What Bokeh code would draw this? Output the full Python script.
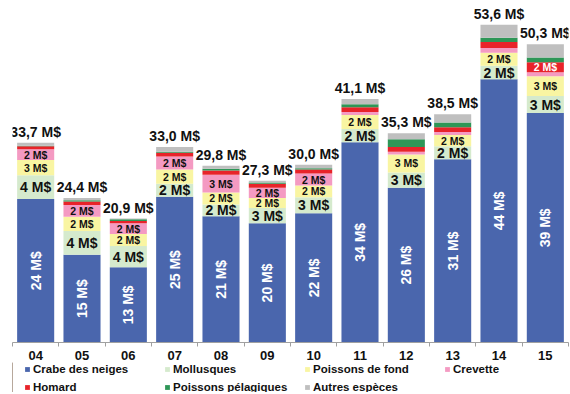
from bokeh.plotting import figure
from bokeh.layouts import column
from bokeh.models import ColumnDataSource, Legend, LegendItem, FixedTicker, Range1d
from bokeh.core.properties import value
from bokeh.embed import file_html
from bokeh.resources import INLINE

years = ["04", "05", "06", "07", "08", "09", "10", "11", "12", "13", "14", "15"]
crabe = [24.2, 14.8, 12.7, 24.6, 21.3, 20.1, 21.8, 33.8, 26.1, 30.9, 44.4, 38.7]
mollusques = [4.0, 4.0, 3.6, 2.2, 2.0, 2.6, 2.7, 2.2, 2.6, 2.2, 2.3, 2.9]
fond = [2.6, 2.4, 2.0, 2.4, 2.0, 1.7, 2.0, 2.4, 3.0, 1.9, 2.2, 3.3]
crevette = [1.8, 2.0, 1.8, 2.2, 3.0, 1.7, 2.0, 0.5, 0.5, 0.5, 0.8, 0.7]
homard = [0.5, 0.6, 0.4, 0.6, 0.7, 0.7, 0.7, 0.8, 0.8, 0.8, 1.0, 1.7]
pelagiques = [0.1, 0.2, 0.3, 0.2, 0.3, 0.2, 0.2, 0.5, 1.3, 0.8, 0.7, 0.8]
autres = [0.5, 0.4, 0.1, 0.8, 0.5, 0.3, 0.6, 0.9, 1.0, 1.4, 2.2, 2.2]

names = ["Crabe des neiges", "Mollusques", "Poissons de fond", "Crevette",
         "Homard", "Poissons pélagiques", "Autres espèces"]
series = [crabe, mollusques, fond, crevette, homard, pelagiques, autres]
colors = ["#4a66ad", "#d5eacd", "#f9f5a2", "#f49ac2", "#e8232a", "#2e9657", "#bfbfbf"]
keys = ["s%d" % i for i in range(len(series))]

FONT = "Liberation Sans"
xs = list(range(len(years)))
data = {"x": xs}
for k, s in zip(keys, series):
    data[k] = s
src = ColumnDataSource(data)

p = figure(frame_width=556, frame_height=342, output_backend="svg", toolbar_location=None,
           x_range=Range1d(-0.5, len(years) - 0.5), y_range=Range1d(0, 57.7),
           min_border_left=12, min_border_right=2, min_border_top=0, min_border_bottom=0)
p.outline_line_color = None
p.xgrid.visible = False
p.ygrid.visible = False
p.yaxis.visible = False

rends = p.vbar_stack(keys, x="x", width=0.8, color=colors, line_color=None, source=src)

def fmt(v):
    return "%d M$" % int(v + 0.5)

groups = {"blue": ([], [], []), "green": ([], [], []), "small": ([], [], []), "red": ([], [], [])}
for i in xs:
    base = 0.0
    for j, s in enumerate(series):
        v = s[i]
        mid = base + v / 2
        g = None
        if j == 0:
            g = "blue"
        elif j == 1:
            g = "green"
        elif j in (2, 3) and v >= 1.5:
            g = "small"
        elif j == 4 and v >= 1.5:
            g = "red"
        if g:
            groups[g][0].append(i); groups[g][1].append(mid); groups[g][2].append(fmt(v))
        base += v

gx, gy, gt = groups["blue"]
p.text(x=gx, y=gy, text=gt, angle=1.5708, text_color="white", text_font=value(FONT),
       text_font_style="bold", text_font_size="14px", text_align="center", text_baseline="middle")
gx, gy, gt = groups["green"]
p.text(x=gx, y=gy, text=gt, text_color="#111111", text_font=value(FONT),
       text_font_style="bold", text_font_size="14px", text_align="center", text_baseline="middle")
gx, gy, gt = groups["small"]
p.text(x=gx, y=gy, text=gt, text_color="#111111", text_font=value(FONT),
       text_font_style="bold", text_font_size="10.5px", text_align="center", text_baseline="middle")
gx, gy, gt = groups["red"]
p.text(x=gx, y=gy, text=gt, text_color="white", text_font=value(FONT),
       text_font_style="bold", text_font_size="10.5px", text_align="center", text_baseline="middle")

totals = [sum(s[i] for s in series) for i in xs]
tot_txt = [("%.1f" % t).replace(".", ",") + " M$" for t in totals]
p.text(x=xs, y=totals, text=tot_txt, y_offset=-3, text_color="#111111", text_font=value(FONT),
       text_font_style="bold", text_font_size="14px", text_align="center", text_baseline="bottom")

ax = p.xaxis[0]
ax.ticker = FixedTicker(ticks=xs, minor_ticks=[i - 0.5 for i in range(len(years) + 1)])
ax.major_label_overrides = {i: y for i, y in enumerate(years)}
ax.major_tick_line_color = None
ax.major_tick_out = 0
ax.major_tick_in = 0
ax.minor_tick_out = 4
ax.minor_tick_in = 0
ax.minor_tick_line_color = "#a0a0a0"
ax.axis_line_color = "#a0a0a0"
ax.major_label_text_font = FONT
ax.major_label_text_font_style = "bold"
ax.major_label_text_font_size = "13px"
ax.major_label_text_color = "#111111"
ax.major_label_standoff = 4

# legend in a strip below the chart (its swatch bars lie outside the visible range)
lg = figure(frame_width=556, height=30, output_backend="svg", toolbar_location=None,
            x_axis_type=None, y_axis_type=None, x_range=Range1d(0, 1), y_range=Range1d(0, 1),
            min_border_left=12, min_border_right=2, min_border_top=0, min_border_bottom=0)
lg.outline_line_color = None
lg.xgrid.visible = False
lg.ygrid.visible = False
lrends = [lg.vbar(x=[-5], top=[1], width=0.5, color=c, line_color=None) for c in colors]
items = [LegendItem(label=n, renderers=[r]) for n, r in zip(names, lrends)]
legend = Legend(items=items, ncols=4, location=(12, -1), orientation="horizontal",
                label_text_font=FONT, label_text_font_style="bold", label_text_font_size="11.5px",
                label_text_color="#111111", glyph_width=6, glyph_height=6, label_standoff=3,
                label_width=126, label_height=13, spacing=5, padding=0, margin=0,
                border_line_color=None, background_fill_alpha=0)
lg.add_layout(legend)

layout = column(p, lg, spacing=0)
open("out.html", "w").write(file_html(layout, INLINE))
